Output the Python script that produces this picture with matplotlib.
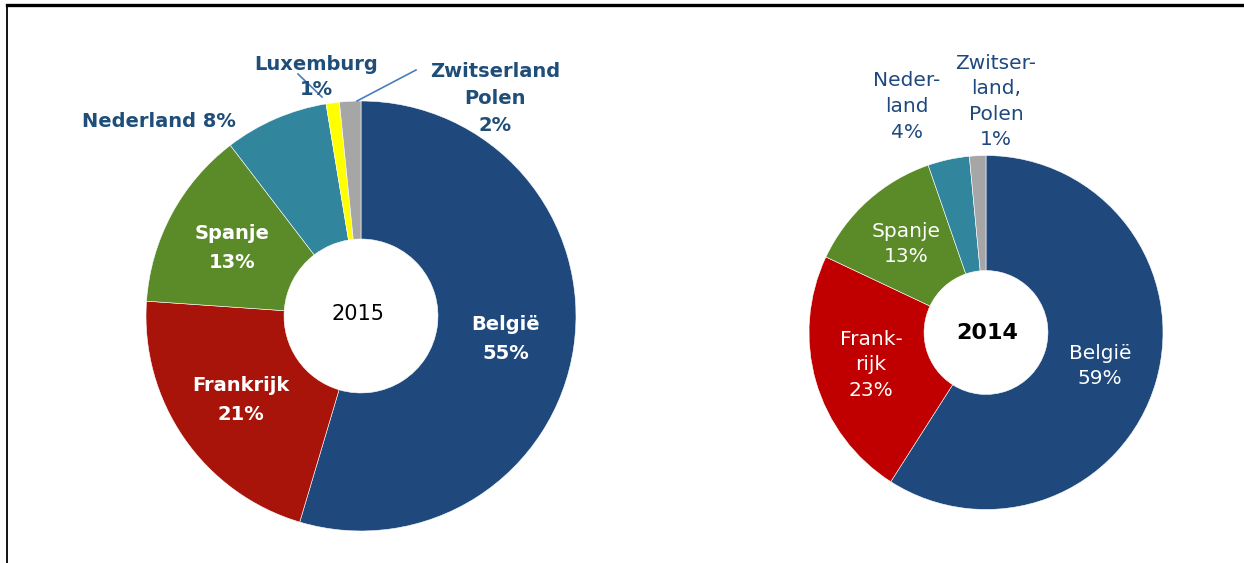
import matplotlib
matplotlib.use("Agg")
import matplotlib.pyplot as plt
from matplotlib.lines import Line2D

# ---------------- data ----------------
countries_2015 = ["België", "Frankrijk", "Spanje", "Nederland", "Luxemburg", "Zwitserland Polen"]
shares_2015 = [54.6, 21.5, 13.5, 7.8, 1.0, 1.6]
labels_2015 = ["België\n55%", "Frankrijk\n21%", "Spanje\n13%", "Nederland 8%",
               "Luxemburg\n1%", "Zwitserland\nPolen\n2%"]
colors_2015 = ["#1F497D", "#A8130A", "#5B8A28", "#31859C", "#FFFF00", "#A6A6A6"]

countries_2014 = ["België", "Frankrijk", "Spanje", "Nederland", "Zwitserland, Polen"]
shares_2014 = [59.1, 23.0, 12.7, 3.8, 1.5]
labels_2014 = ["België\n59%", "Frank-\nrijk\n23%", "Spanje\n13%", "Neder-\nland\n4%",
               "Zwitser-\nland,\nPolen\n1%"]
colors_2014 = ["#1F497D", "#C00000", "#5B8A28", "#31859C", "#A6A6A6"]

W, H = 1244, 563
fig = plt.figure(figsize=(W / 100, H / 100), dpi=100)
fig.patch.set_facecolor("white")

# frame lines (top and left)
fig.add_artist(Line2D([7 / W, 1.0], [1 - 5 / H, 1 - 5 / H], color="black", lw=2.4,
                      transform=fig.transFigure))
fig.add_artist(Line2D([7.5 / W, 7.5 / W], [0, 1 - 5 / H], color="black", lw=1.3,
                      transform=fig.transFigure))


def make_pie(cx, cy, R, values, colors, hole):
    ax = fig.add_axes([(cx - R) / W, (H - cy - R) / H, 2 * R / W, 2 * R / H])
    ax.pie(values, colors=colors, startangle=90, counterclock=False, radius=1,
           wedgeprops=dict(width=1 - hole, edgecolor="white", linewidth=0.4))
    ax.set_xlim(-1, 1)
    ax.set_ylim(-1, 1)
    ax.set_aspect("equal")
    ax.axis("off")

    def P(px, py):
        return ((px - cx) / R, (cy - py) / R)
    return ax, P


# ---------- 2015 ----------
ax1, P1 = make_pie(361, 316, 215, shares_2015, colors_2015, 0.358)
txt_blue = "#1F4E79"
fs1 = 14
ax1.text(*P1(506, 339), labels_2015[0], color="white", fontsize=fs1, fontweight="bold",
         ha="center", va="center", linespacing=1.62)
ax1.text(*P1(241, 400), labels_2015[1], color="white", fontsize=fs1, fontweight="bold",
         ha="center", va="center", linespacing=1.62)
ax1.text(*P1(232, 248), labels_2015[2], color="white", fontsize=fs1, fontweight="bold",
         ha="center", va="center", linespacing=1.62)
ax1.text(*P1(159, 121), labels_2015[3], color=txt_blue, fontsize=fs1, fontweight="bold",
         ha="center", va="center")
ax1.text(*P1(316, 77), labels_2015[4], color=txt_blue, fontsize=fs1, fontweight="bold",
         ha="center", va="center", linespacing=1.42)
ax1.text(*P1(495, 98.5), labels_2015[5], color=txt_blue, fontsize=fs1, fontweight="bold",
         ha="center", va="center", linespacing=1.56)
ax1.text(*P1(358, 314), "2015", color="black", fontsize=15, ha="center", va="center")
# leader lines
for (x0, y0), (x1, y1) in [((298, 74), (322, 97)), ((416, 70), (357, 101))]:
    a, b = P1(x0, y0)
    c, d = P1(x1, y1)
    ax1.plot([a, c], [b, d], color="#4A7EBB", lw=1.2, clip_on=False)

# ---------- 2014 ----------
ax2, P2 = make_pie(986, 332.5, 177, shares_2014, colors_2014, 0.35)
txt_blue2 = "#1F497D"
fs2 = 14.5
ls2 = 1.44
ax2.text(*P2(1100, 366), labels_2014[0], color="white", fontsize=fs2,
         ha="center", va="center", linespacing=ls2)
ax2.text(*P2(871, 365), labels_2014[1], color="white", fontsize=fs2,
         ha="center", va="center", linespacing=ls2)
ax2.text(*P2(906, 244), labels_2014[2], color="white", fontsize=fs2,
         ha="center", va="center", linespacing=ls2)
ax2.text(*P2(907, 106.5), labels_2014[3], color=txt_blue2, fontsize=fs2,
         ha="center", va="center", linespacing=ls2)
ax2.text(*P2(996, 101.5), labels_2014[4], color=txt_blue2, fontsize=fs2,
         ha="center", va="center", linespacing=ls2)
ax2.text(*P2(987, 333), "2014", color="black", fontsize=16, fontweight="bold",
         ha="center", va="center")

fig.savefig("out.png", dpi=100, facecolor="white")
